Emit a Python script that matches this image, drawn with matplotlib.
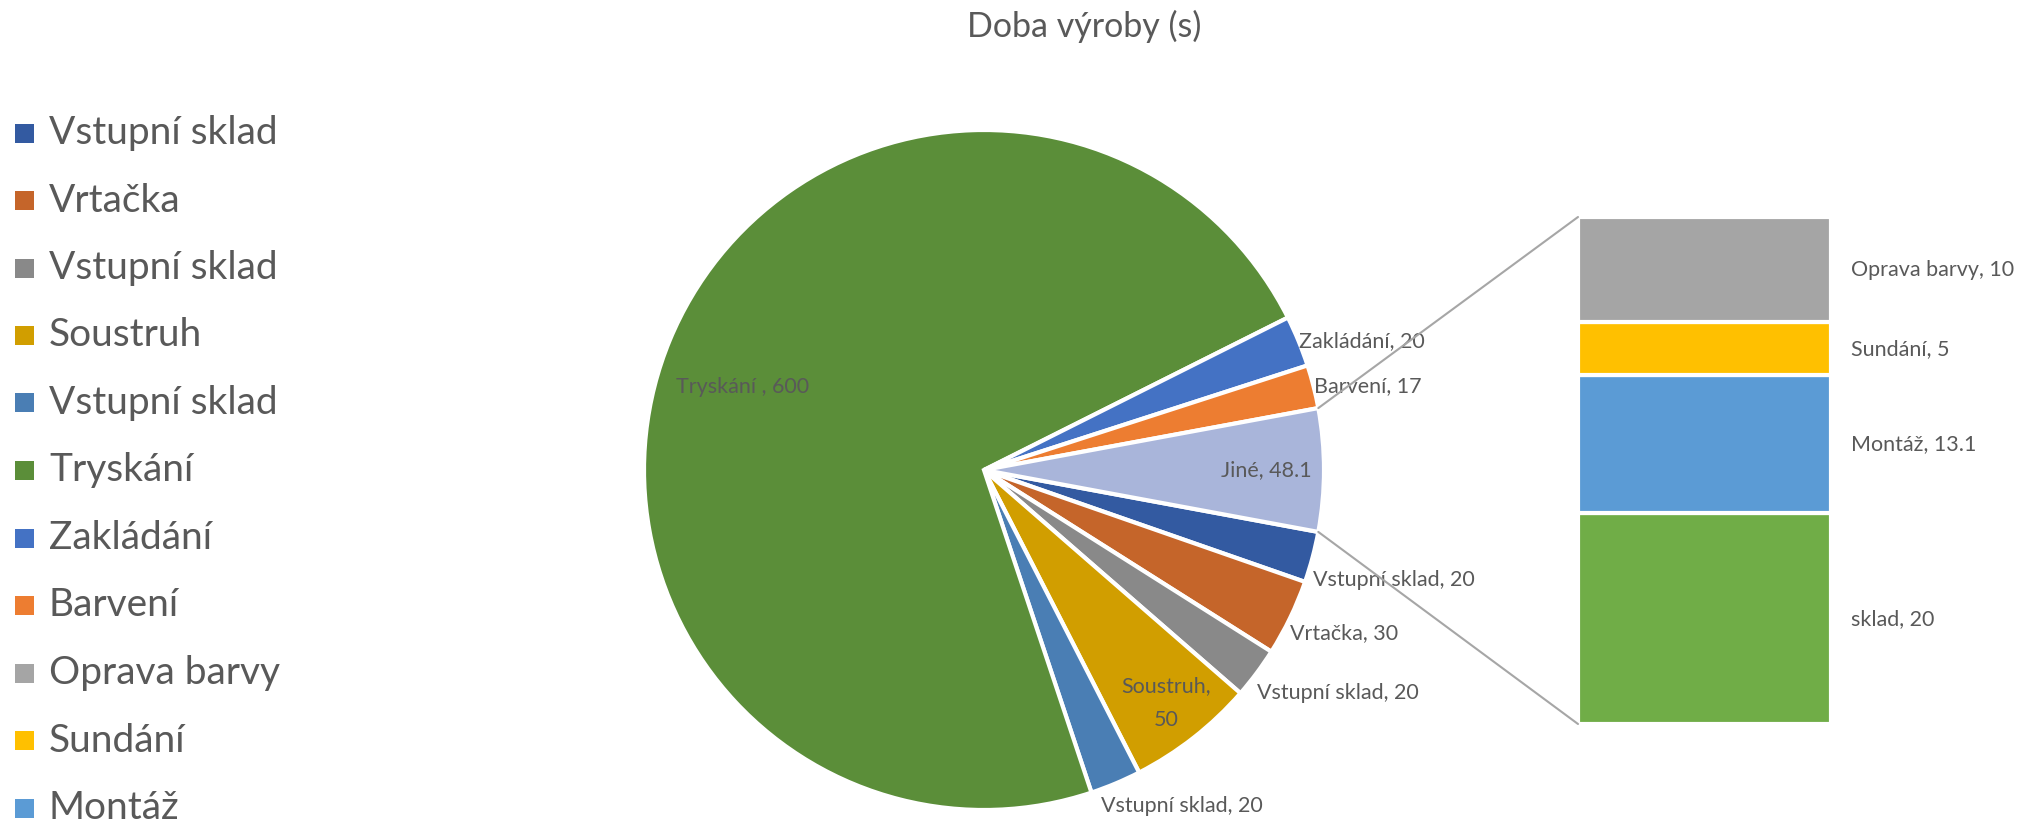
import matplotlib
matplotlib.use("Agg")
import matplotlib.pyplot as plt
from matplotlib.patches import Rectangle, ConnectionPatch
import numpy as np

# ---------------- data ----------------
title = "Doba výroby (s)"
pie_labels = ["Vstupní sklad", "Vrtačka", "Vstupní sklad", "Soustruh",
              "Vstupní sklad", "Tryskání ", "Zakládání", "Barvení"]
pie_values = [20, 30, 20, 50, 20, 600, 20, 17]
pie_colors = ["#335AA1", "#C5652A", "#898989", "#D19E00",
              "#4A7EB4", "#5B8E39", "#4472C4", "#ED7D31"]
other_label = "Jiné"
other_color = "#A9B5DA"
bar_labels = ["Oprava barvy", "Sundání", "Montáž", "sklad"]   # top to bottom
bar_values = [10, 5, 13.1, 20]
bar_colors = ["#A5A5A5", "#FFC000", "#5B9BD5", "#70AD47"]

# ---------------- layout ----------------
W, H = 2024, 825
FONT = "Lato"
TXT = "#595959"
plt.rcParams['font.family'] = [FONT, 'DejaVu Sans']

fig = plt.figure(figsize=(W / 100, H / 100), dpi=100)
ax = fig.add_axes([0, 0, 1, 1])

other_value = round(sum(bar_values), 1)
values = pie_values + [other_value]
colors = pie_colors + [other_color]
total = sum(values)
start = -other_value / total * 180.0

cx, cy, R = 984, H - 470, 340
wedges, _ = ax.pie(values, colors=colors, startangle=start, counterclock=False,
                   center=(cx, cy), radius=R,
                   wedgeprops=dict(edgecolor="white", linewidth=3))
ax.set_xlim(0, W)
ax.set_ylim(0, H)
ax.set_aspect('equal')
ax.axis('off')

LBL = 15.5
# wedge label positions (fraction of radius, alignment, pixel offsets)
label_texts = [f"{l}, {v:g}" for l, v in zip(pie_labels, pie_values)] + \
              [f"{other_label}, {other_value:g}"]
label_texts[3] = "Soustruh,\n50"
lab_r = [1.0, 1.0, 1.0, 0.87, 1.0, 0.77, 1.0, 1.0, 0.83]
lab_ha = ["left", "left", "left", "center", "left", "center", "left", "left", "center"]
lab_dx = [0, 0, 0, 0, -15, 0, 0, 0, 0]
lab_dy = [-23, -15, -20, 0, -23, -17, 0, 0, 0]
for w, t, rf, ha, dx, dy in zip(wedges, label_texts, lab_r, lab_ha, lab_dx, lab_dy):
    mid = np.deg2rad((w.theta1 + w.theta2) / 2)
    x = cx + R * rf * np.cos(mid) + dx
    y = cy + R * rf * np.sin(mid) + dy
    ax.text(x, y, t, ha=ha, va="center", fontsize=LBL, color=TXT,
            linespacing=1.9 if "\n" in t else 1.2)

# title
ax.text(1084, H - 26, title, ha="center", va="center", fontsize=24.5, color=TXT)

# ---------------- bar of pie ----------------
bx0, bx1, by_top, by_bot = 1578, 1831, 217, 724
bax = fig.add_axes([bx0 / W, (H - by_bot) / H, (bx1 - bx0) / W, (by_bot - by_top) / H])
bax.set_xlim(-0.5, 0.5)
bax.set_ylim(0, other_value)
bax.axis('off')
bottom = 0
for lab, v, c in zip(bar_labels[::-1], bar_values[::-1], bar_colors[::-1]):
    bax.bar(0, v, width=1.0, bottom=bottom, color=c, edgecolor="white", linewidth=3)
    bax.text(0.58, bottom + v / 2, f"{lab}, {v:g}", ha="left", va="center",
             fontsize=LBL, color=TXT, clip_on=False)
    bottom += v

# connectors from "Jiné" wedge corners to bar corners
jw = wedges[-1]
for ang, ypt in ((jw.theta2, other_value), (jw.theta1, 0)):
    a = np.deg2rad(ang)
    p = (cx + R * np.cos(a), cy + R * np.sin(a))
    con = ConnectionPatch(xyA=p, coordsA=ax.transData, xyB=(-0.5, ypt),
                          coordsB=bax.transData, color="#A6A6A6", linewidth=1.5)
    fig.add_artist(con)

# ---------------- legend ----------------
leg_labels = pie_labels + bar_labels
leg_colors = pie_colors + bar_colors
for i, (l, c) in enumerate(zip(leg_labels, leg_colors)):
    yc = H - (133 + 67.5 * i)
    ax.add_patch(Rectangle((15, yc - 9.5), 19, 19, facecolor=c, edgecolor="none"))
    ax.text(49, yc, l.strip(), ha="left", va="center", fontsize=28, color=TXT)

fig.savefig("out.png", dpi=100)
